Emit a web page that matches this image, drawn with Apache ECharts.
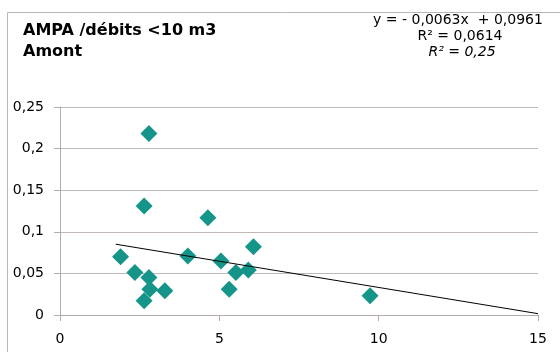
<!DOCTYPE html>
<html><head><meta charset="utf-8">
<script src="https://cdn.jsdelivr.net/npm/echarts@6/dist/echarts.min.js"></script>
<style>html,body{margin:0;padding:0;background:#fff}#c{width:560px;height:352px}</style>
</head><body><div id="c"></div>
<script>
const xValues = [1.90, 2.35, 2.64, 2.64, 2.79, 2.79, 2.82, 3.29, 4.01, 4.64, 5.05, 5.31, 5.52, 5.91, 6.07, 9.73];
const yValues = [0.070, 0.051, 0.017, 0.131, 0.218, 0.045, 0.031, 0.029, 0.071, 0.117, 0.065, 0.031, 0.051, 0.054, 0.082, 0.023];
const trendSlope = -0.0063;
const trendIntercept = 0.0961;
const trendX = [1.75, 15];
const xTicks = [0, 5, 10, 15];
const yTicks = [0, 0.05, 0.1, 0.15, 0.2, 0.25];
const titleLines = ['AMPA /débits <10 m3', 'Amont'];
const eqLines = ['y = - 0,0063x  + 0,0961', 'R² = 0,0614', 'R² = 0,25'];

const points = xValues.map((x, i) => [x, yValues[i]]);
const trend = trendX.map(x => [x, trendSlope * x + trendIntercept]);
const fmt = v => String(+v.toFixed(2)).replace('.', ',');
const chart = echarts.init(document.getElementById('c'), null, {renderer: 'canvas'});
const axisCol = '#b4acac';
const FF = '"DejaVu Sans", Arial, sans-serif';
chart.setOption({
  animation: false,
  backgroundColor: '#fff',
  grid: {left: 60, right: 22, top: 107, bottom: 37},
  xAxis: {
    type: 'value', min: xTicks[0], max: xTicks[xTicks.length - 1], interval: 5,
    axisLine: {show: true, lineStyle: {color: axisCol}},
    axisTick: {show: true, length: 6, lineStyle: {color: axisCol}},
    splitLine: {show: false},
    axisLabel: {margin: 17, color: '#000', fontFamily: FF, fontSize: 14, formatter: fmt}
  },
  yAxis: {
    type: 'value', min: yTicks[0], max: yTicks[yTicks.length - 1], interval: 0.05,
    axisLine: {show: true, lineStyle: {color: axisCol}},
    axisTick: {show: true, length: 6, lineStyle: {color: axisCol}},
    splitLine: {show: true, lineStyle: {color: '#c0b8b8', width: 1}},
    axisLabel: {margin: 16, color: '#000', fontFamily: FF, fontSize: 14, formatter: fmt}
  },
  series: [
    {type: 'scatter', data: points, symbol: 'diamond', symbolSize: [17, 17],
     itemStyle: {color: '#15958a', opacity: 1}, z: 3},
    {type: 'line', data: trend, symbol: 'none', lineStyle: {color: '#000', width: 1}, z: 4, silent: true}
  ],
  graphic: [
    {type: 'line', shape: {x1: 7.5, y1: 12.5, x2: 560, y2: 12.5}, style: {stroke: '#bdb5b5', lineWidth: 1}},
    {type: 'line', shape: {x1: 7.5, y1: 12.5, x2: 7.5, y2: 352}, style: {stroke: '#bdb5b5', lineWidth: 1}},
    {type: 'text', x: 23, y: 31, style: {text: titleLines[0], font: 'bold 16px ' + FF, fill: '#000', textVerticalAlign: 'middle'}},
    {type: 'text', x: 23, y: 52, style: {text: titleLines[1], font: 'bold 16px ' + FF, fill: '#000', textVerticalAlign: 'middle'}},
    {type: 'text', x: 458, y: 20, style: {text: eqLines[0], font: '14px ' + FF, fill: '#000', textAlign: 'center', textVerticalAlign: 'middle'}},
    {type: 'text', x: 460, y: 36, style: {text: eqLines[1], font: '14px ' + FF, fill: '#000', textAlign: 'center', textVerticalAlign: 'middle'}},
    {type: 'text', x: 462, y: 52, style: {text: eqLines[2], font: 'italic 14px ' + FF, fill: '#000', textAlign: 'center', textVerticalAlign: 'middle'}}
  ]
});
</script></body></html>
